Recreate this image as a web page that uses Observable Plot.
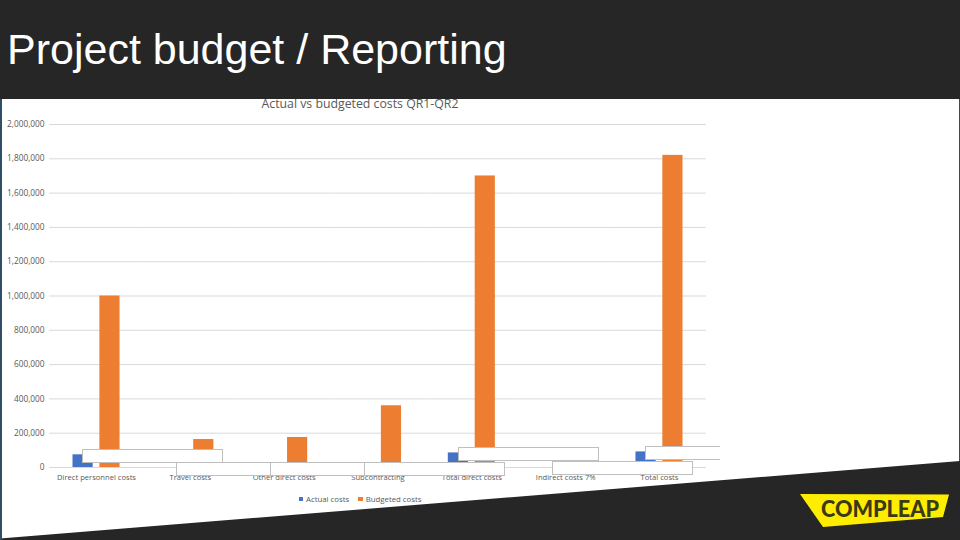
<!DOCTYPE html>
<html>
<head>
<meta charset="utf-8">
<script src="https://cdn.jsdelivr.net/npm/d3@7"></script>
<script src="https://cdn.jsdelivr.net/npm/@observablehq/plot@0.6"></script>
<style>
html,body{margin:0;padding:0;background:#fff;overflow:hidden}
#stage{position:relative;width:960px;height:540px;overflow:hidden;font-family:"Open Sans",sans-serif}
#chart{position:absolute;left:0;top:0}
#chart svg{display:block}
.abs{position:absolute}
#chartTitle{left:160px;width:400px;top:95px;text-align:center;font-size:12.3px;color:#595959;line-height:18px;white-space:nowrap}
#header{left:0;top:0;width:960px;height:99px;background:#262626}
#slideTitle{left:7px;top:25px;font-family:"Liberation Sans",Arial,sans-serif;font-size:43px;line-height:48px;color:#fff;white-space:nowrap}
#footer{left:0;top:0;width:960px;height:540px;background:#262626;clip-path:polygon(0 538.5px,960px 461px,960px 540px,0 540px)}
#edge{left:0;top:99px;width:1.5px;height:441px;background:#2f4f66}
#edgeR{left:958.7px;top:99px;width:1.3px;height:365px;background:#2f4f66}
.box{position:absolute;box-sizing:border-box;height:14px;width:141px;background:#fff;border:1px solid #bfbfbf}
#legend{left:298.5px;top:493px;font-size:7.8px;line-height:12px;color:#595959;white-space:nowrap;display:flex;align-items:center}
#legend i{display:inline-block;width:4.5px;height:4.5px;margin-right:3px}
#legend span{margin-right:9px;display:flex;align-items:center}
</style>
</head>
<body>
<div id="stage">
  <div id="chart"></div>
  <div class="abs" id="chartTitle">Actual vs budgeted costs QR1-QR2</div>
  <div class="abs" id="legend"></div>
  <div class="abs" id="edgeR"></div>
  <div class="abs" id="footer"></div>
  <div class="abs" id="edge"></div>
  <div class="abs" id="header"></div>
  <div class="abs" id="slideTitle">Project budget / Reporting</div>
  <div class="box" style="left:82px;top:449px"></div>
  <div class="box" style="left:176px;top:462px"></div>
  <div class="box" style="left:270px;top:462px"></div>
  <div class="box" style="left:364px;top:462px"></div>
  <div class="box" style="left:458px;top:447px"></div>
  <div class="box" style="left:552px;top:461px"></div>
  <div class="box" style="left:645px;top:446px;width:75px;border-right:none"></div>
  <svg class="abs" style="left:0;top:0" width="960" height="540">
    <polygon points="800,494 949,494.5 943,517 823,527" fill="#ffed00"/>
    <text x="880" y="517" text-anchor="middle" font-family="Lato,'Liberation Sans',sans-serif" font-weight="900" font-size="22" fill="#3b3a16" textLength="118" lengthAdjust="spacingAndGlyphs">COMPLEAP</text>
  </svg>
</div>
<script>
const categories = ["Direct personnel costs","Travel costs","Other direct costs","Subcontracting","Total direct costs","Indirect costs 7%","Total costs"];
const actualCosts = [74000,0,0,0,85000,0,91000];
const budgetedCosts = [1000000,163000,175000,360000,1700000,0,1820000];
const seriesNames = ["Actual costs","Budgeted costs"];
const seriesColors = ["#4472c4","#ed7d31"];
const yTicks = [0,200000,400000,600000,800000,1000000,1200000,1400000,1600000,1800000,2000000];
const tickText = ["0","200,000","400,000","600,000","800,000","1,000,000","1,200,000","1,400,000","1,600,000","1,800,000","2,000,000"];

const rows = categories.flatMap((c,i)=>[
  {category:c,series:seriesNames[0],value:actualCosts[i]},
  {category:c,series:seriesNames[1],value:budgetedCosts[i]}
]);

const chart = Plot.plot({
  width:960,height:540,
  marginLeft:47,marginRight:252,marginTop:124,marginBottom:73,
  style:{background:"transparent",fontFamily:"'Open Sans',sans-serif"},
  fx:{domain:categories,paddingInner:0,paddingOuter:0.0225,label:null,round:false},
  x:{domain:seriesNames,axis:null,paddingInner:0.25,paddingOuter:0.87,round:false},
  y:{domain:[0,2000000],axis:null},
  color:{domain:seriesNames,range:seriesColors},
  marks:[
    Plot.gridY(yTicks,{stroke:"#d9d9d9",strokeOpacity:1,strokeWidth:1}),
    Plot.barY(rows,{fx:"category",x:"series",y:"value",fill:"series"}),
    Plot.axisY(yTicks,{anchor:"left",tickSize:0,tickPadding:5,label:null,fontSize:8.3,fill:"#595959",tickFormat:d=>tickText[yTicks.indexOf(d)]}),
    Plot.axisFx({anchor:"bottom",tickSize:0,tickPadding:7.5,label:null,fontSize:7.6,fill:"#595959"})
  ]
});
document.getElementById("chart").append(chart);

const legend = d3.select("#legend");
seriesNames.forEach((n,i)=>{
  const s = legend.append("span");
  s.append("i").style("background",seriesColors[i]);
  s.append("b").style("font-weight","normal").text(n);
});
</script>
</body>
</html>
